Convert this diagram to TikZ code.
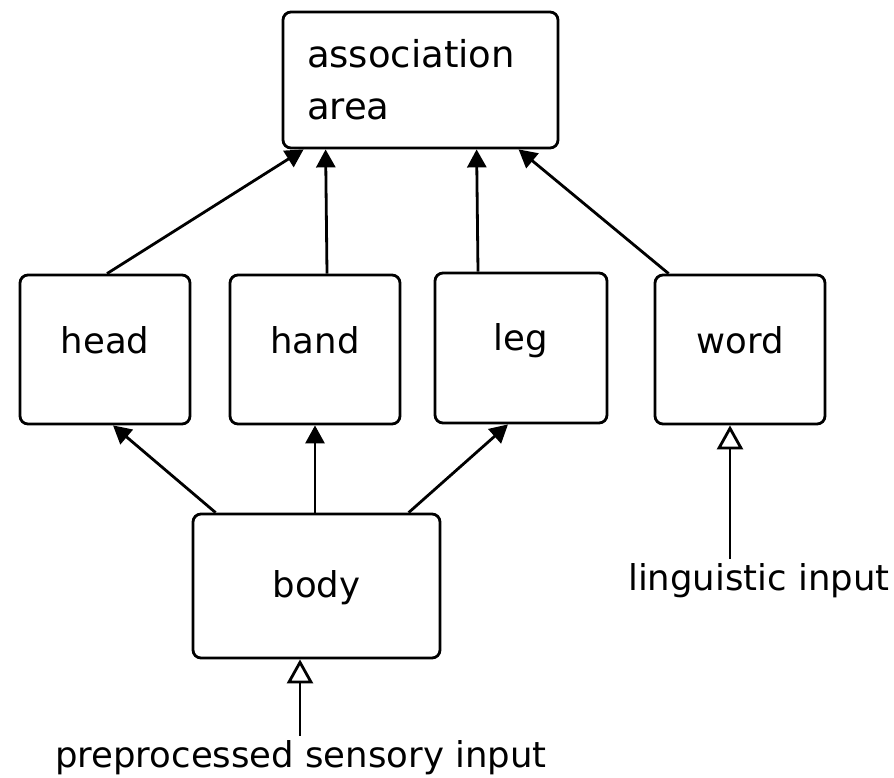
\documentclass[tikz,border=0pt]{standalone}
\usepackage{fontspec}
\setmainfont{DejaVu Sans}
\usetikzlibrary{arrows.meta,calc}
\begin{document}
\begin{tikzpicture}[x=1pt,y=-1pt,
  frame/.style={draw, line width=2.8pt, rounded corners=8pt, fill=white},
  box/.style={frame, minimum width=170pt, minimum height=149pt, inner sep=0pt,
    font=\fontsize{35.5}{43}\selectfont, text height=27pt, text depth=20pt},
  link/.style={line width=2.8pt, -{Triangle[width=19pt,length=18pt]}},
  feed/.style={line width=2.8pt, -{Triangle[open,width=26pt,length=24pt,fill=white]}},
  inlabel/.style={font=\fontsize{35.5}{43}\selectfont, inner sep=4pt}]

\useasboundingbox (0,0) rectangle (894,777);
\clip (0,0) rectangle (894,777);

% top level
\node[frame, minimum width=275pt, minimum height=136pt, inner xsep=24pt, inner ysep=0pt,
      text width=227pt, align=left, font=\fontsize{37}{52}\selectfont]
  (assoc) at (420.5,80) {association\\area};

% body-part and word modules
\node[box] (head) at (105,349.5) {head};
\node[box] (hand) at (315,349.5) {hand};
\node[box, minimum width=172pt, minimum height=150pt, text depth=23pt] (leg) at (521,348) {leg};
\node[box] (word) at (740,349.5) {word};
\node[box, minimum width=247pt, minimum height=144pt, text depth=5pt] (body) at (316.5,586) {body};

% inputs
\node[inlabel, anchor=base west] (ling) at (624,590) {linguistic input};
\node[inlabel, anchor=base west] (pre) at (51,767) {preprocessed sensory input};

% connections into the association area
\draw[link] ($(head.north)+(2,0)$) -- ($(assoc.south west)+(22,0)$);
\draw[link] ($(hand.north)+(12,0)$) -- ($(assoc.south west)+(44,0)$);
\draw[link] ($(leg.north)+(-43,0)$) -- ($(assoc.south west)+(195,0)$);
\draw[link] ($(word.north west)+(15,0)$) -- ($(assoc.south west)+(237,0)$);

% body feeds the part modules
\draw[link] ($(body.north west)+(24,0)$) -- ($(head.south)+(8,0)$);
\draw[link] ($(body.north)+(-1.5,0)$) -- (hand.south);
\draw[link] ($(body.north west)+(217,0)$) -- ($(leg.south)+(-13,0)$);

% external inputs
\coordinate (lingin) at ($(word.south)+(-10,0)$);
\draw[feed] (ling.north -| lingin) -- (lingin);
\coordinate (prein) at ($(body.south)+(-16.5,0)$);
\draw[feed] (pre.north -| prein) -- (prein);
\end{tikzpicture}
\end{document}
